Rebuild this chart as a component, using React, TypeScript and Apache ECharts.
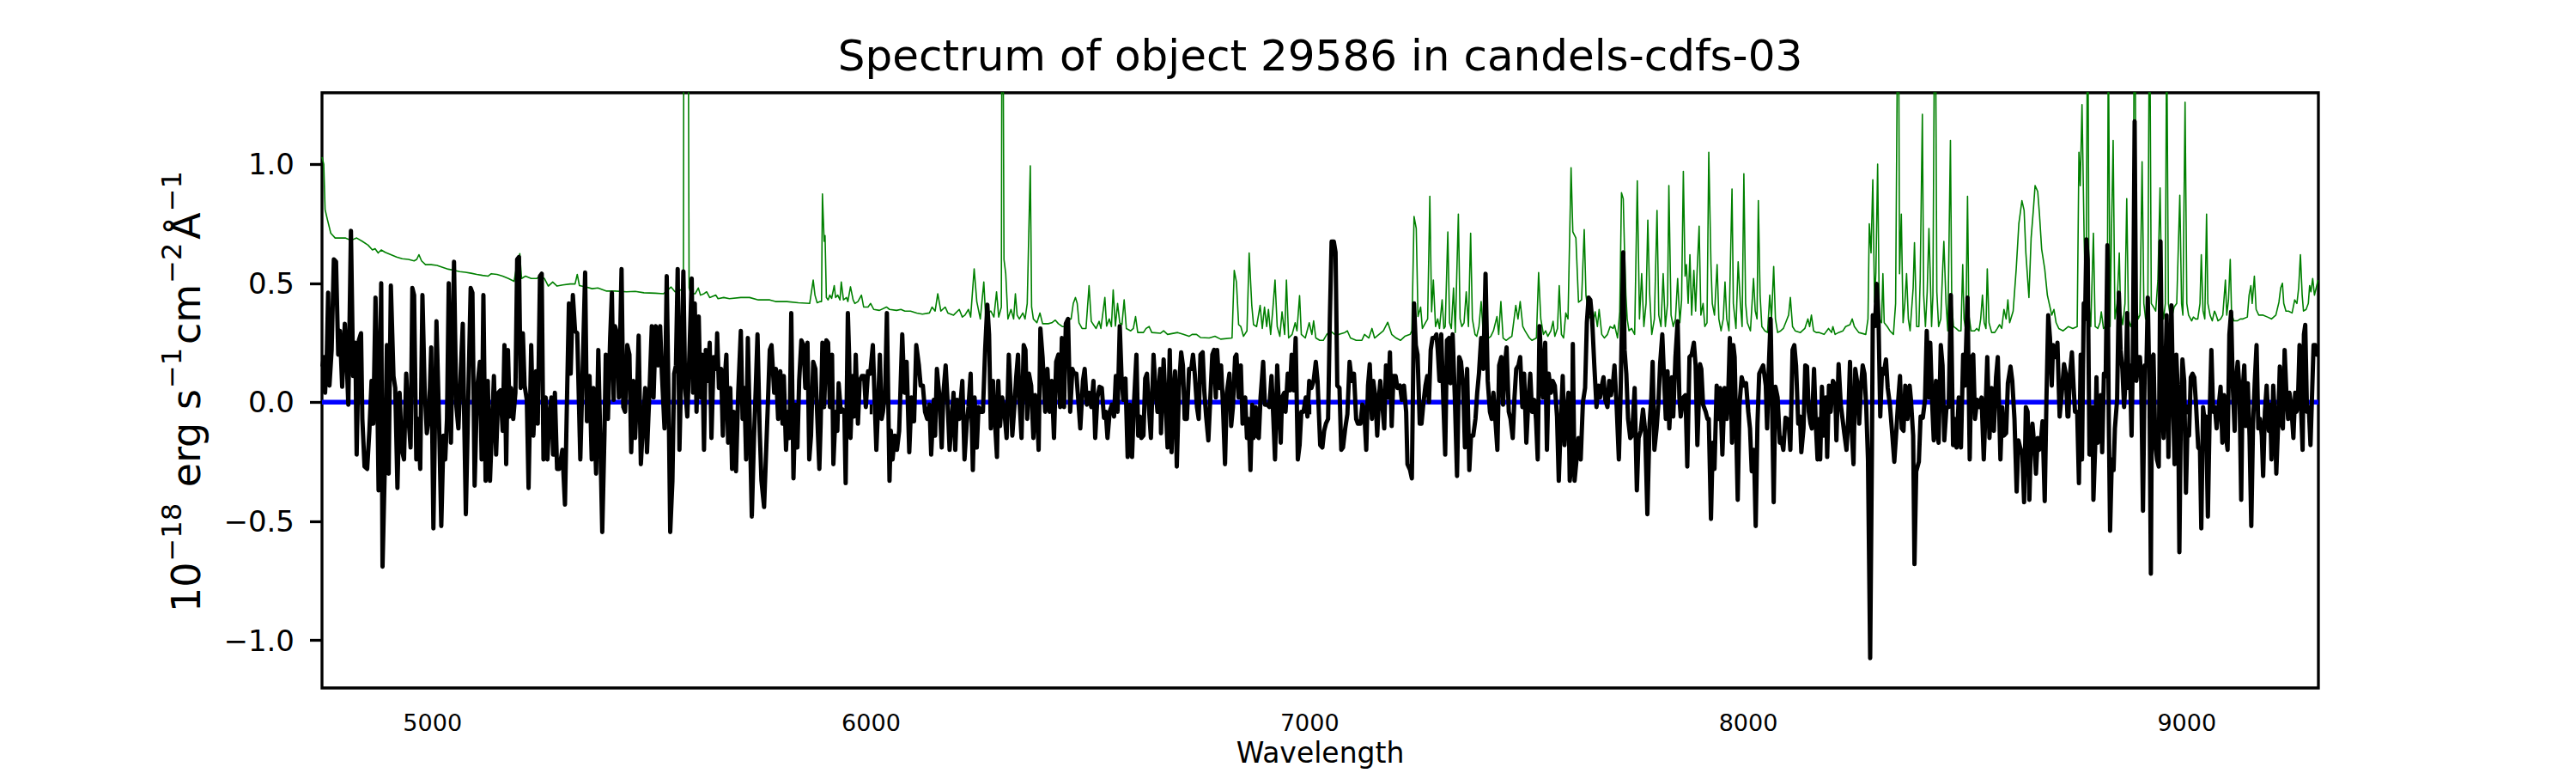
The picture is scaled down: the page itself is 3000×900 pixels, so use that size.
import React, { useEffect, useRef } from "react";
import * as echarts from "echarts";

const TITLE = "Spectrum of object 29586 in candels-cdfs-03";
const X_LABEL = "Wavelength";
const X_MIN = 4748;
const X_MAX = 9300;
const Y_MIN = -1.2;
const Y_MAX = 1.3;
const X_TICKS = [5000, 6000, 7000, 8000, 9000];
const Y_TICKS = [-1.0, -0.5, 0, 0.5, 1.0];
const ZERO_LINE = [[4748, 0], [9300, 0]];

// Observed flux (black), [wavelength, value]
const fluxA = [
  [4749, 0.15], [4752, 0.19], [4755, 0.04], [4759, 0.2], [4762, 0.46], [4765, 0.07], [4770, 0.22], [4775, 0.6],
  [4780, 0.59], [4785, 0.2], [4789, 0.3], [4794, 0.065], [4800, 0.33], [4804, 0.19], [4808, -0.01], [4814, 0.72],
  [4819, 0.11], [4824, 0.25], [4827, -0.22], [4832, 0.26], [4837, 0.29], [4840, -0.07], [4845, -0.27], [4851, -0.28],
  [4856, -0.12], [4861, 0.09], [4865, -0.09], [4870, 0.44], [4873, 0.2], [4877, -0.37], [4883, 0.5], [4886, -0.69],
  [4892, -0.21], [4896, 0.24], [4900, -0.3], [4905, 0.49], [4911, 0.11], [4915, 0.06], [4920, -0.36], [4925, 0.04],
  [4930, -0.2], [4935, -0.24], [4940, 0.12], [4945, -0.06], [4950, -0.19], [4954, 0.48], [4958, 0.45], [4963, -0.24],
  [4967, -0.07], [4972, -0.28], [4977, 0.45], [4982, 0.06], [4987, -0.13], [4992, -0.06], [4997, 0.23], [5002, -0.53],
  [5009, 0.34], [5015, -0.09], [5020, -0.52], [5025, -0.14], [5029, -0.24], [5033, -0.07], [5037, 0.5], [5042, -0.17],
  [5049, 0.59], [5054, -0.01], [5059, -0.11], [5063, 0.07], [5069, 0.33], [5072, -0.04], [5076, -0.47], [5082, 0.06],
  [5087, 0.48], [5091, 0.46], [5096, -0.35], [5100, -0.07], [5103, 0.08], [5108, 0.17], [5112, -0.24], [5116, 0.45],
  [5121, -0.33], [5126, 0.09], [5131, -0.33], [5136, -0.09], [5140, 0.11], [5145, -0.22], [5150, 0.04], [5155, 0.05],
  [5160, -0.12], [5164, 0.24], [5168, -0.26], [5172, 0.22], [5176, -0.06], [5179, 0.06], [5184, -0.07], [5189, 0.04],
  [5193, 0.6], [5197, 0.61], [5201, 0.06], [5206, 0.29], [5210, 0.07], [5215, 0.01], [5219, -0.36], [5225, 0.24],
  [5230, -0.14], [5236, 0.13], [5240, -0.09], [5245, 0.53], [5249, 0.54], [5253, -0.24], [5258, 0.02], [5262, -0.24],
  [5266, -0.07], [5271, 0.02], [5275, -0.22], [5279, 0.04], [5284, -0.28], [5289, -0.28], [5296, -0.2], [5302, -0.43],
  [5305, -0.14],
];
const fluxB = [
  [5311, 0.415], [5315, 0.12], [5320, 0.45], [5325, 0.3], [5330, 0.29], [5337, -0.24], [5341, 0.04], [5348, 0.545],
  [5352, -0.08], [5358, 0.11], [5363, -0.24], [5367, 0.06], [5373, -0.3], [5378, 0.22], [5382, -0.11], [5387, -0.545],
  [5392, -0.14], [5395, 0.2], [5400, -0.07], [5405, 0.27], [5409, 0.46], [5413, 0.01], [5416, 0.32], [5421, 0.285],
  [5425, 0.02], [5431, 0.56], [5435, -0.02], [5439, -0.04], [5444, 0.24], [5449, 0.2], [5453, -0.21], [5458, 0.09],
  [5462, -0.15], [5467, 0.07], [5470, 0.28], [5475, -0.26], [5480, -0.09], [5485, 0.06], [5489, -0.21], [5495, 0.06],
  [5500, 0.32], [5504, 0.02], [5509, 0.32], [5514, 0.155], [5519, 0.32], [5523, 0.12], [5529, -0.11], [5534, 0.53],
  [5539, -0.09], [5542, -0.545], [5547, -0.33], [5551, 0.12], [5555, 0.155], [5559, 0.56], [5563, -0.2], [5568, 0.2],
  [5572, 0.55], [5576, 0.06], [5581, -0.06], [5586, 0.22], [5591, 0.52], [5594, 0.04], [5598, 0.415], [5602, -0.04],
  [5607, 0.36], [5611, 0.02], [5615, 0.2], [5619, -0.2], [5623, 0.22], [5627, 0.09], [5632, 0.25], [5636, -0.15],
  [5641, 0.19], [5647, 0.14], [5649, 0.29], [5653, 0.06], [5658, 0.14], [5662, -0.14], [5666, 0.09], [5670, 0.2],
  [5674, -0.17], [5679, 0.06], [5683, -0.28], [5687, -0.04], [5692, -0.29], [5697, 0.04], [5703, 0.3], [5707, -0.07],
  [5711, 0.06], [5715, -0.24], [5719, 0.27], [5724, -0.14], [5728, -0.48], [5733, -0.15], [5737, 0.06], [5741, 0.285],
  [5746, -0.12], [5750, -0.33], [5756, -0.44], [5760, -0.24], [5764, -0.04], [5769, 0.22], [5773, 0.24], [5779, 0.04],
  [5783, 0.14], [5788, -0.07], [5793, 0.13], [5798, -0.09], [5801, 0.11], [5806, -0.2], [5810, -0.04], [5814, -0.15],
  [5818, 0.375], [5823, -0.32], [5827, -0.01], [5832, -0.19], [5836, 0.09], [5841, 0.26], [5846, 0.24], [5850, 0.06],
  [5855, 0.25], [5859, -0.24], [5863, -0.14], [5868, 0.17], [5873, 0.14],
];
const fluxC = [
  [5882, -0.28], [5885, -0.09], [5889, 0.25], [5893, -0.02], [5898, 0.26], [5902, 0.25], [5906, -0.02], [5911, 0.2],
  [5914, -0.26], [5919, -0.04], [5923, -0.12], [5926, 0.08], [5931, -0.04], [5935, -0.03], [5939, -0.04], [5942, -0.34],
  [5947, 0.375], [5950, 0.19], [5953, -0.15], [5958, 0.11], [5961, -0.06], [5965, 0.2], [5970, -0.09], [5974, 0.09],
  [5979, 0.11], [5984, 0.11], [5988, -0.02], [5993, 0.13], [5998, 0.12], [6004, 0.24], [6009, -0.04], [6012, -0.2],
  [6015, -0.06], [6020, 0.2], [6024, -0.07], [6027, -0.04], [6032, 0.04], [6036, 0.375], [6042, -0.33], [6045, -0.12],
  [6049, -0.24], [6054, -0.14], [6059, -0.2], [6064, -0.12], [6071, 0.285], [6076, 0.04], [6081, 0.17], [6087, -0.21],
  [6092, 0.02], [6098, -0.08], [6103, 0.24], [6109, 0.155], [6113, 0.07], [6118, 0.07], [6123, -0.04], [6128, -0.07],
  [6133, -0.01], [6137, -0.22], [6143, 0.01], [6146, -0.14], [6150, 0.14], [6156, 0.02], [6161, -0.19], [6165, 0.04],
  [6170, 0.155], [6174, 0.02], [6179, -0.2], [6183, -0.1], [6188, 0.04], [6192, -0.2], [6196, 0.01], [6201, -0.07],
  [6208, 0.09], [6213, -0.24], [6218, -0.09], [6222, -0.02], [6227, 0.12], [6232, -0.285], [6236, 0.02], [6241, -0.19],
  [6245, -0.02], [6250, -0.04], [6255, -0.04], [6260, 0.22], [6265, 0.41], [6269, 0.285], [6273, -0.11], [6278, 0.09],
  [6283, -0.1], [6287, -0.23], [6290, 0.09], [6294, -0.1], [6299, 0.02], [6304, -0.04], [6309, -0.15], [6314, 0.2],
  [6318, 0.04], [6322, -0.14], [6327, -0.01], [6331, 0.11], [6335, 0.2], [6338, 0.02], [6343, -0.15], [6348, 0.24],
  [6352, 0.22], [6356, -0.07], [6360, 0.12], [6365, 0.07], [6370, -0.15], [6374, 0.03], [6379, -0.06], [6382, -0.2],
  [6386, 0.31], [6391, 0.19], [6397, -0.04], [6402, 0.14], [6407, -0.04], [6412, 0.09], [6417, -0.15], [6422, 0.17],
  [6427, 0.2], [6431, -0.02], [6435, 0.27], [6440, -0.02], [6444, 0.33], [6449, 0.35],
];
const fluxD = [
  [6454, -0.04], [6459, 0.14], [6463, 0.12], [6468, 0.12], [6472, 0.02], [6477, -0.11], [6483, 0.09], [6487, 0.14],
  [6492, -0.01], [6497, 0.04], [6502, -0.02], [6507, 0.09], [6511, -0.15], [6516, 0.02], [6521, 0.065], [6526, 0.06],
  [6531, -0.065], [6535, -0.04], [6539, -0.15], [6544, -0.04], [6549, -0.01], [6554, -0.06], [6558, 0.11], [6562, -0.04],
  [6567, 0.32], [6571, 0.11], [6575, 0.01], [6580, 0.1], [6585, -0.23], [6590, -0.01], [6595, -0.23], [6599, -0.02],
  [6605, 0.2], [6609, -0.14], [6613, -0.06], [6616, -0.15], [6621, -0.14], [6625, 0.1], [6629, 0.12], [6634, -0.04],
  [6638, -0.15], [6644, 0.2], [6648, 0.07], [6653, -0.04], [6659, 0.14], [6661, -0.13], [6667, 0.18], [6671, 0.02],
  [6676, -0.19], [6681, 0.22], [6685, -0.21], [6689, 0.02], [6693, 0.13], [6697, -0.27], [6702, 0.06], [6707, 0.21],
  [6711, 0.155], [6715, -0.07], [6720, -0.07], [6725, 0.14], [6730, 0.14], [6734, 0.2], [6738, 0.12], [6743, -0.02],
  [6747, -0.07], [6751, 0.2], [6756, 0.21], [6760, 0.04], [6764, -0.06], [6769, -0.16], [6772, -0.04], [6778, 0.2],
  [6782, 0.22], [6786, 0.02], [6789, 0.22], [6794, 0.06], [6798, 0.155], [6802, 0], [6807, -0.26], [6811, 0.04],
  [6817, 0.12], [6821, -0.1], [6825, -0.02], [6830, 0.19], [6833, 0.2], [6838, 0.02], [6843, 0.155], [6847, -0.09],
  [6853, 0.02], [6857, -0.15], [6861, -0.07], [6865, -0.285], [6869, -0.01], [6872, -0.15], [6877, -0.02], [6880, -0.14],
  [6884, -0.15], [6888, 0.02], [6894, 0.17], [6898, -0.01], [6903, -0.01], [6908, -0.02], [6913, 0.11], [6917, -0.06],
  [6921, -0.24], [6926, 0.155], [6930, -0.02], [6934, -0.17], [6937, 0.02], [6942, 0.04], [6945, -0.04], [6950, 0.12],
  [6955, 0.05], [6959, 0.2], [6963, 0.05], [6968, 0.27], [6973, -0.24], [6977, -0.18], [6981, -0.04], [6986, -0.04],
  [6991, 0.02], [6995, -0.06], [6999, 0.09], [7004, 0.06], [7009, 0.09], [7014, 0.17], [7018, 0.09],
];
const fluxE = [
  [7024, -0.18], [7029, -0.19], [7033, -0.12], [7037, -0.09], [7042, -0.07], [7046, 0.35], [7050, 0.675], [7055, 0.675],
  [7059, 0.63], [7063, 0.07], [7068, 0.06], [7072, -0.2], [7076, -0.19], [7081, -0.11], [7086, -0.05], [7091, 0.17],
  [7096, 0.09], [7101, 0.12], [7106, -0.07], [7110, -0.09], [7116, -0.09], [7120, -0.01], [7124, -0.02], [7129, -0.2],
  [7133, 0.07], [7137, 0.16], [7142, -0.07], [7145, 0.09], [7150, 0.02], [7154, -0.14], [7158, 0.02], [7161, 0.09],
  [7166, -0.02], [7170, -0.11], [7174, 0.155], [7179, 0.02], [7183, 0.21], [7187, -0.1], [7191, 0.11], [7196, 0.11],
  [7200, 0.06], [7206, 0.07], [7210, 0.01], [7215, 0.07], [7220, -0.04], [7223, -0.26], [7229, -0.285], [7233, -0.32],
  [7238, 0.415], [7242, 0.24], [7246, 0.2], [7251, -0.09], [7255, -0.09], [7259, -0.01], [7264, 0.07], [7268, 0.11],
  [7272, 0], [7276, 0.22], [7280, 0.27], [7285, 0.27], [7289, 0.285], [7292, 0.22], [7296, 0.09], [7300, 0.285],
  [7305, -0.01], [7309, -0.22], [7313, 0.26], [7318, 0.27], [7321, 0.08], [7326, 0.285], [7331, 0.02], [7336, -0.31],
  [7341, 0.19], [7345, 0.17], [7350, 0.07], [7354, -0.19], [7359, 0.14], [7364, -0.285], [7368, -0.14], [7373, -0.14],
  [7378, -0.07], [7382, 0.04], [7386, 0.12], [7391, 0.27], [7396, 0.14], [7401, 0.54], [7406, 0.09], [7411, -0.04],
  [7415, -0.07], [7419, 0.04], [7424, -0.09], [7428, -0.2], [7432, 0.155], [7437, 0.19], [7441, -0.01], [7445, 0.155],
  [7449, 0.23], [7454, -0.04], [7458, -0.07], [7463, -0.15], [7467, 0.02], [7471, 0.14], [7476, 0.155], [7480, 0.19],
  [7485, -0.02], [7489, 0.12], [7494, -0.17], [7499, 0.02], [7503, 0.12], [7507, -0.04], [7512, 0.01], [7516, -0.07],
  [7520, -0.24], [7524, 0.32], [7528, 0.17], [7532, 0.02], [7537, 0.25], [7541, -0.2], [7545, 0.12], [7550, 0.04],
  [7554, 0.09], [7559, 0.07], [7564, -0.06], [7568, -0.33], [7572, -0.11], [7577, 0.11], [7581, -0.18], [7586, -0.04],
  [7590, 0.04], [7593, -0.33],
];
const fluxF = [
  [7598, -0.24], [7600, 0.245], [7604, -0.33], [7608, -0.25], [7613, -0.15], [7618, -0.24], [7623, 0], [7628, 0.06],
  [7632, 0.335], [7636, 0.44], [7640, 0.43], [7644, 0.35], [7649, 0.155], [7654, -0.02], [7658, 0.07], [7662, 0.02],
  [7666, 0.07], [7670, 0.105], [7674, 0.01], [7679, -0.02], [7683, 0.09], [7687, 0.03], [7692, 0.09], [7695, 0.155],
  [7700, -0.02], [7705, -0.24], [7709, 0.04], [7715, 0.63], [7718, 0.22], [7722, 0.12], [7726, -0.07], [7731, -0.15],
  [7735, -0.14], [7741, 0.06], [7746, -0.37], [7750, -0.15], [7755, -0.12], [7760, -0.03], [7765, -0.12], [7770, -0.47],
  [7775, -0.09], [7779, 0.02], [7782, 0.17], [7786, -0.2], [7791, -0.11], [7795, -0.01], [7799, 0.16], [7804, 0.285],
  [7808, 0.105], [7812, -0.07], [7816, 0.13], [7820, -0.11], [7826, 0.105], [7829, -0.06], [7834, 0.19], [7839, 0.34],
  [7843, 0.02], [7846, -0.06], [7852, 0.02], [7857, 0.03], [7861, -0.27], [7866, 0.19], [7871, 0.2], [7876, 0.25],
  [7880, 0.155], [7884, -0.18], [7890, 0.16], [7893, 0.14], [7897, -0.01], [7903, -0.04], [7907, -0.07], [7910, -0.07],
  [7915, -0.49], [7919, -0.17], [7923, -0.28], [7928, 0.07], [7932, -0.07], [7936, 0.06], [7941, -0.22], [7946, 0.06],
  [7951, -0.07], [7954, 0.01], [7958, 0.27], [7963, -0.17], [7966, 0.24], [7969, 0.19], [7972, -0.07], [7976, -0.41],
  [7980, -0.01], [7985, 0.105], [7990, 0.07], [7995, 0.08], [8000, -0.04], [8004, -0.11], [8008, -0.29], [8013, -0.2],
  [8017, -0.52], [8021, -0.09], [8025, 0.12], [8030, 0.14], [8034, 0.155], [8040, 0.07], [8043, -0.11], [8047, 0.155],
  [8051, 0.35], [8055, -0.09], [8058, -0.42], [8062, 0.065], [8067, 0.02], [8072, -0.17], [8075, -0.15], [8080, -0.2],
  [8085, -0.065], [8089, -0.07], [8093, -0.11], [8096, -0.2], [8101, 0.22], [8105, 0.24], [8109, 0.155], [8114, -0.09],
  [8118, -0.06], [8121, -0.21], [8126, -0.11], [8130, 0.155], [8134, 0.15], [8138, -0.04], [8142, -0.09], [8145, -0.11],
  [8150, 0.14], [8154, -0.09], [8158, -0.24], [8162, -0.07],
];
const fluxG = [
  [8164, -0.24], [8168, 0.065], [8172, -0.14], [8177, 0.02], [8180, -0.23], [8184, 0.07], [8188, -0.04], [8193, 0.09],
  [8198, 0.07], [8201, -0.16], [8206, 0.16], [8211, -0.01], [8215, -0.07], [8219, -0.13], [8224, -0.2], [8228, -0.07],
  [8232, 0.17], [8236, -0.12], [8240, -0.26], [8244, 0.14], [8248, 0.09], [8253, -0.09], [8257, 0.065], [8261, 0.155],
  [8265, 0.12], [8269, -0.02], [8273, -0.24], [8278, -1.075], [8282, -0.2], [8284, 0.366], [8289, 0.32], [8293, 0.497],
  [8297, 0.35], [8301, -0.06], [8305, 0.14], [8309, 0.12], [8314, 0.18], [8318, 0.06], [8323, -0.01], [8329, -0.15],
  [8333, -0.25], [8338, -0.11], [8342, 0.01], [8346, 0.11], [8350, -0.11], [8354, -0.12], [8358, 0.07], [8363, -0.07],
  [8368, 0.07], [8371, 0.01], [8376, -0.14], [8379, -0.68], [8383, -0.29], [8389, -0.25], [8393, -0.06], [8398, -0.065],
  [8403, 0.01], [8407, 0.3], [8412, 0.02], [8415, 0.25], [8419, 0.01], [8423, -0.16], [8428, 0.09], [8431, -0.12],
  [8434, -0.17], [8439, 0.24], [8443, 0.155], [8447, -0.16], [8452, -0.02], [8457, -0.02], [8462, 0.45], [8467, -0.18],
  [8471, -0.07], [8475, -0.19], [8480, 0.02], [8485, -0.19], [8490, 0.2], [8494, 0.07], [8500, 0.44], [8505, -0.24],
  [8509, 0.19], [8513, 0.2], [8517, -0.07], [8522, 0.01], [8527, -0.02], [8532, 0.02], [8537, -0.24], [8542, 0.02],
  [8545, 0.19], [8550, -0.15], [8555, 0.06], [8560, -0.12], [8565, 0.105], [8569, 0.19], [8575, -0.24], [8579, -0.02],
  [8583, -0.14], [8588, -0.13], [8592, 0.08], [8598, 0.15], [8602, 0.09], [8607, -0.07], [8612, -0.375], [8616, -0.16],
  [8620, -0.19], [8625, -0.22], [8629, -0.42], [8633, -0.02], [8637, -0.04], [8641, -0.41], [8645, -0.14], [8648, -0.09],
  [8653, -0.2], [8656, -0.3], [8660, -0.15], [8663, -0.2], [8667, -0.17], [8671, -0.08], [8676, -0.415], [8680, 0.02],
  [8684, 0.366], [8688, 0.27], [8692, 0.07], [8695, 0.24], [8700, 0.19], [8705, 0.25], [8710, -0.06], [8715, 0.04],
  [8720, 0.16], [8724, 0.12], [8728, -0.06],
];
const fluxH = [
  [8730, -0.06], [8733, 0.105], [8738, 0.21], [8742, 0.06], [8745, -0.04], [8750, -0.04], [8754, -0.34], [8758, 0.2],
  [8761, -0.24], [8765, 0.415], [8768, 0.35], [8771, 0.684], [8774, 0.6], [8778, -0.22], [8781, -0.02], [8785, -0.02],
  [8787, -0.41], [8791, -0.19], [8794, 0.105], [8797, -0.17], [8800, 0.02], [8804, 0.03], [8807, -0.21], [8811, 0.12],
  [8815, 0.11], [8819, 0.66], [8822, -0.06], [8825, -0.54], [8829, -0.24], [8833, -0.285], [8836, -0.11], [8841, 0.01],
  [8845, 0.46], [8849, 0.22], [8853, 0.14], [8857, -0.02], [8861, 0.12], [8864, 0.375], [8867, 0.06], [8870, 0.155],
  [8874, -0.14], [8877, 0.2], [8881, 1.18], [8885, 0.09], [8889, 0.19], [8893, 0.19], [8896, 0.09], [8900, -0.456],
  [8904, 0.155], [8908, 0.155], [8911, 0.44], [8915, 0.02], [8918, -0.72], [8921, 0.19], [8924, 0.2], [8928, -0.17],
  [8932, -0.24], [8936, -0.27], [8940, 0.676], [8944, -0.01], [8947, -0.15], [8951, 0.12], [8954, 0.366], [8958, -0.23],
  [8962, 0.17], [8965, 0.407], [8969, -0.02], [8972, -0.26], [8976, 0.2], [8980, 0.02], [8983, -0.63], [8986, -0.11],
  [8990, 0.18], [8994, 0.09], [8998, -0.38], [9001, -0.14], [9005, -0.14], [9009, 0.105], [9013, 0.12], [9017, 0.105],
  [9021, -0.01], [9026, -0.19], [9030, -0.2], [9033, -0.53], [9037, -0.02], [9041, -0.09], [9044, -0.06], [9048, -0.48],
  [9052, -0.06], [9056, 0.22], [9060, -0.04], [9064, -0.02], [9068, -0.11], [9073, -0.01], [9077, 0.065], [9081, -0.17],
  [9085, 0.03], [9089, -0.14], [9093, -0.2], [9097, 0.285], [9101, 0.38], [9105, 0.06], [9109, -0.12], [9112, 0.09],
  [9116, 0.17], [9120, 0.06], [9124, -0.41], [9127, 0.04], [9131, 0.155], [9135, -0.1], [9139, 0.08], [9143, -0.14],
  [9147, -0.52], [9151, -0.09], [9155, 0.09], [9159, 0.24], [9163, -0.11], [9167, -0.07], [9171, -0.14], [9174, -0.31],
  [9178, -0.04], [9182, 0.07], [9187, -0.12], [9190, -0.01], [9193, -0.24], [9197, 0.07], [9201, -0.07], [9204, -0.3],
  [9208, -0.1], [9212, 0.15], [9216, -0.09], [9219, -0.11], [9223, 0.22], [9227, 0.04], [9231, -0.07], [9234, 0.04],
  [9238, -0.01], [9243, -0.15], [9247, 0.04], [9250, -0.04], [9253, -0.02], [9257, 0.24], [9261, -0.05], [9264, -0.2],
  [9267, 0.285], [9270, 0.325], [9274, -0.04], [9278, -0.02], [9282, -0.18], [9286, 0.06], [9289, 0.24], [9293, 0.24],
  [9296, 0.2], [9300, 0.2],
];

// Noise / contamination spectrum (green), [wavelength, value]
const noiseA = [
  [4748, 1.03], [4752, 1.0], [4755, 0.81], [4760, 0.77], [4768, 0.71], [4778, 0.69], [4788, 0.69], [4801, 0.69],
  [4814, 0.68], [4827, 0.69], [4840, 0.676], [4853, 0.66], [4863, 0.64], [4869, 0.645], [4876, 0.627], [4883, 0.64],
  [4892, 0.63], [4905, 0.62], [4918, 0.61], [4931, 0.603], [4945, 0.6], [4958, 0.594], [4964, 0.6], [4969, 0.62],
  [4975, 0.594], [4984, 0.578], [4997, 0.578], [5010, 0.575], [5023, 0.567], [5036, 0.559], [5049, 0.554], [5062, 0.549],
  [5075, 0.546], [5088, 0.542], [5101, 0.537], [5114, 0.533], [5127, 0.53], [5134, 0.54], [5147, 0.537], [5160, 0.53],
  [5173, 0.52], [5186, 0.508], [5193, 0.586], [5199, 0.624], [5203, 0.52], [5212, 0.53], [5225, 0.52], [5238, 0.52],
  [5245, 0.53], [5255, 0.52], [5264, 0.488], [5274, 0.505], [5284, 0.488], [5297, 0.493], [5314, 0.497],
];
const noiseB = [
  [5325, 0.497], [5330, 0.537], [5335, 0.49], [5351, 0.484], [5364, 0.477], [5377, 0.48], [5397, 0.467], [5416, 0.467],
  [5442, 0.464], [5462, 0.466], [5482, 0.46], [5508, 0.458], [5527, 0.456], [5544, 0.484], [5553, 0.464], [5566, 0.472],
  [5572, 0.47], [5574, 3.0], [5578, 1.5], [5581, 3.0], [5585, 0.48], [5589, 0.456], [5599, 0.456], [5606, 0.48],
  [5611, 0.45], [5619, 0.456], [5625, 0.464], [5632, 0.44], [5646, 0.45], [5651, 0.435], [5664, 0.44], [5677, 0.435],
  [5703, 0.44], [5723, 0.44], [5743, 0.43], [5769, 0.43], [5782, 0.423], [5808, 0.423], [5834, 0.418], [5860, 0.415],
  [5868, 0.513], [5872, 0.45], [5877, 0.418], [5884, 0.423],
];
const noiseC = [
  [5887, 0.423], [5889, 0.875], [5893, 0.676], [5895, 0.7], [5898, 0.44], [5902, 0.43], [5906, 0.45], [5910, 0.436],
  [5916, 0.49], [5919, 0.44], [5924, 0.45], [5929, 0.43], [5932, 0.505], [5937, 0.43], [5944, 0.44], [5947, 0.423],
  [5953, 0.485], [5959, 0.43], [5963, 0.415], [5970, 0.423], [5978, 0.45], [5983, 0.4], [5993, 0.4], [5999, 0.415],
  [6006, 0.39], [6019, 0.386], [6035, 0.4], [6042, 0.39], [6058, 0.386], [6068, 0.39], [6077, 0.383], [6090, 0.383],
  [6104, 0.375], [6117, 0.37], [6133, 0.375], [6139, 0.4], [6146, 0.383], [6152, 0.456], [6159, 0.383], [6169, 0.4],
  [6175, 0.375], [6188, 0.366], [6201, 0.39], [6208, 0.358], [6214, 0.366], [6222, 0.39], [6227, 0.358], [6235, 0.56],
  [6241, 0.423], [6249, 0.35], [6257, 0.505], [6261, 0.366], [6273, 0.383], [6280, 0.358], [6286, 0.464], [6291, 0.358],
  [6297, 0.4], [6299, 2.5], [6303, 0.6], [6307, 0.54], [6312, 0.35], [6319, 0.39], [6325, 0.35], [6329, 0.456],
  [6333, 0.366], [6338, 0.35], [6346, 0.375], [6351, 0.35], [6356, 0.415], [6363, 0.993], [6366, 0.4], [6370, 0.35],
  [6378, 0.334], [6385, 0.375], [6391, 0.33], [6404, 0.33], [6412, 0.334], [6420, 0.345], [6427, 0.33], [6436, 0.318],
  [6446, 0.318], [6453, 0.35],
];
const noiseD = [
  [6456, 0.35], [6461, 0.415], [6466, 0.44], [6470, 0.415], [6474, 0.334], [6481, 0.31], [6490, 0.31], [6497, 0.49],
  [6502, 0.34], [6507, 0.326], [6513, 0.31], [6520, 0.34], [6524, 0.31], [6533, 0.44], [6537, 0.32], [6543, 0.35],
  [6548, 0.318], [6552, 0.472], [6557, 0.32], [6562, 0.415], [6567, 0.334], [6572, 0.326], [6577, 0.43], [6582, 0.31],
  [6592, 0.3], [6598, 0.31], [6603, 0.36], [6608, 0.293], [6621, 0.293], [6627, 0.31], [6634, 0.318], [6640, 0.293],
  [6660, 0.29], [6667, 0.3], [6676, 0.285], [6699, 0.293], [6712, 0.285], [6725, 0.277], [6732, 0.285], [6742, 0.285],
  [6751, 0.272], [6771, 0.27], [6784, 0.277], [6797, 0.265], [6823, 0.27], [6828, 0.554], [6833, 0.505], [6838, 0.326],
  [6843, 0.318], [6849, 0.277], [6857, 0.3], [6862, 0.627], [6868, 0.407], [6872, 0.326], [6879, 0.318], [6887, 0.407],
  [6892, 0.31], [6897, 0.4], [6902, 0.318], [6906, 0.39], [6911, 0.285], [6916, 0.39], [6921, 0.513], [6926, 0.318],
  [6932, 0.277], [6937, 0.38], [6943, 0.285], [6947, 0.513], [6952, 0.27], [6960, 0.285], [6967, 0.334], [6971, 0.3],
  [6977, 0.448], [6981, 0.285], [6990, 0.27], [6999, 0.334], [7005, 0.285], [7009, 0.342], [7014, 0.27], [7023, 0.26],
];
const noiseE = [
  [7031, 0.26], [7039, 0.285], [7047, 0.3], [7057, 0.285], [7067, 0.285], [7080, 0.293], [7086, 0.3], [7093, 0.27],
  [7106, 0.26], [7119, 0.26], [7125, 0.285], [7135, 0.27], [7142, 0.31], [7148, 0.27], [7158, 0.285], [7168, 0.3],
  [7178, 0.336], [7187, 0.285], [7197, 0.27], [7207, 0.26], [7217, 0.277], [7229, 0.285], [7233, 0.3], [7238, 0.78],
  [7243, 0.73], [7247, 0.36], [7253, 0.4], [7257, 0.31], [7264, 0.334], [7269, 0.35], [7274, 0.865], [7278, 0.38],
  [7282, 0.513], [7287, 0.318], [7292, 0.35], [7296, 0.31], [7302, 0.43], [7306, 0.31], [7309, 0.318], [7315, 0.715],
  [7319, 0.334], [7323, 0.31], [7328, 0.48], [7332, 0.293], [7339, 0.79], [7343, 0.35], [7347, 0.318], [7352, 0.334],
  [7357, 0.464], [7362, 0.318], [7367, 0.71], [7371, 0.35], [7377, 0.285], [7381, 0.277], [7386, 0.318], [7391, 0.423],
  [7396, 0.285], [7403, 0.285], [7408, 0.27], [7413, 0.277], [7419, 0.3], [7427, 0.36], [7431, 0.285], [7436, 0.423],
  [7441, 0.27], [7448, 0.26], [7455, 0.27], [7461, 0.277], [7470, 0.407], [7475, 0.35], [7480, 0.423], [7486, 0.318],
  [7491, 0.3], [7501, 0.27], [7507, 0.26], [7517, 0.27], [7522, 0.545], [7527, 0.35], [7533, 0.285], [7538, 0.3],
  [7543, 0.277], [7550, 0.3], [7555, 0.34], [7559, 0.277], [7565, 0.31], [7569, 0.49], [7574, 0.285], [7579, 0.27],
  [7584, 0.375], [7589, 0.35],
];
const noiseF = [
  [7596, 0.985], [7600, 0.716], [7607, 0.69], [7613, 0.42], [7620, 0.43], [7626, 0.725], [7630, 0.45], [7636, 0.366],
  [7646, 0.334], [7651, 0.38], [7656, 0.318], [7660, 0.39], [7666, 0.285], [7672, 0.27], [7679, 0.285], [7685, 0.318],
  [7692, 0.31], [7695, 0.325], [7702, 0.27], [7707, 0.38], [7711, 0.88], [7715, 0.855], [7718, 0.627], [7721, 0.45],
  [7724, 0.35], [7728, 0.3], [7734, 0.31], [7741, 0.285], [7747, 0.93], [7752, 0.35], [7757, 0.54], [7762, 0.318],
  [7767, 0.415], [7771, 0.765], [7775, 0.464], [7780, 0.285], [7786, 0.35], [7792, 0.806], [7796, 0.366], [7801, 0.318],
  [7806, 0.54], [7811, 0.318], [7816, 0.415], [7819, 0.91], [7824, 0.366], [7829, 0.318], [7834, 0.35], [7839, 0.52],
  [7844, 0.334], [7848, 0.43], [7852, 0.97], [7856, 0.53], [7859, 0.578], [7863, 0.415], [7867, 0.62], [7871, 0.366],
  [7876, 0.554], [7880, 0.383], [7883, 0.53], [7888, 0.74], [7892, 0.366], [7897, 0.415], [7901, 0.318], [7906, 0.334],
  [7910, 1.05], [7915, 0.578], [7918, 0.415], [7923, 0.366], [7929, 0.578], [7933, 0.35], [7938, 0.3], [7943, 0.35],
  [7947, 0.505], [7951, 0.35], [7956, 0.3], [7963, 0.896], [7966, 0.415], [7972, 0.31], [7977, 0.59], [7982, 0.415],
  [7986, 0.318], [7990, 0.96], [7994, 0.415], [7998, 0.334], [8005, 0.3], [8012, 0.52], [8016, 0.383], [8020, 0.35],
  [8023, 0.847], [8027, 0.45], [8031, 0.318], [8038, 0.3], [8044, 0.293], [8049, 0.45], [8053, 0.35], [8058, 0.57],
  [8062, 0.35], [8067, 0.293], [8074, 0.3], [8080, 0.31], [8087, 0.342], [8092, 0.366], [8096, 0.44], [8101, 0.318],
  [8107, 0.3], [8119, 0.293], [8129, 0.31], [8136, 0.35], [8140, 0.318], [8144, 0.366], [8149, 0.3], [8155, 0.293],
  [8162, 0.293],
];
const noiseG = [
  [8173, 0.285], [8183, 0.31], [8190, 0.293], [8193, 0.318], [8198, 0.285], [8206, 0.293], [8216, 0.3], [8222, 0.318],
  [8232, 0.326], [8237, 0.35], [8242, 0.318], [8252, 0.293], [8268, 0.285], [8273, 0.35], [8276, 0.75], [8280, 0.627],
  [8284, 0.935], [8288, 0.42], [8291, 0.545], [8295, 1.0], [8299, 0.35], [8304, 0.334], [8307, 0.54], [8310, 0.334],
  [8317, 0.318], [8323, 0.3], [8331, 0.285], [8336, 0.415], [8342, 2.0], [8345, 0.54], [8349, 0.79], [8353, 0.334],
  [8357, 0.415], [8361, 0.54], [8365, 0.35], [8369, 0.3], [8376, 0.48], [8379, 0.67], [8384, 0.318], [8389, 0.318],
  [8392, 0.513], [8397, 1.21], [8400, 0.45], [8404, 0.318], [8408, 0.464], [8412, 0.73], [8415, 0.53], [8418, 0.318],
  [8421, 0.45], [8426, 2.0], [8430, 0.464], [8434, 0.318], [8439, 0.35], [8443, 0.545], [8446, 0.676], [8451, 0.415],
  [8455, 0.3], [8461, 1.1], [8464, 0.415], [8468, 0.318], [8474, 0.31], [8480, 0.3], [8485, 0.3], [8489, 0.578],
  [8492, 0.35], [8496, 0.3], [8500, 0.865], [8503, 0.366], [8508, 0.3], [8516, 0.3], [8521, 0.31], [8526, 0.3],
  [8530, 0.35], [8534, 0.45], [8538, 0.334], [8542, 0.31], [8545, 0.56], [8549, 0.334], [8555, 0.293], [8562, 0.293],
  [8568, 0.31], [8573, 0.326], [8578, 0.31], [8583, 0.39], [8588, 0.35], [8592, 0.43], [8596, 0.334], [8604, 0.383],
  [8611, 0.56], [8617, 0.75], [8624, 0.847], [8629, 0.806], [8633, 0.627], [8640, 0.44], [8645, 0.69], [8650, 0.806],
  [8654, 0.91], [8660, 0.885], [8664, 0.79], [8669, 0.643], [8676, 0.56], [8682, 0.45], [8688, 0.4], [8692, 0.366],
  [8697, 0.39], [8702, 0.334], [8708, 0.31], [8718, 0.3],
];
const noiseH = [
  [8730, 0.318], [8740, 0.31], [8750, 0.318], [8754, 1.05], [8757, 0.91], [8761, 1.25], [8766, 0.676], [8770, 0.35],
  [8774, 1.8], [8777, 0.415], [8781, 0.318], [8787, 0.71], [8791, 0.318], [8797, 0.31], [8802, 0.334], [8805, 0.38],
  [8810, 0.31], [8815, 0.318], [8819, 0.513], [8821, 1.6], [8825, 0.318], [8828, 0.69], [8832, 1.1], [8836, 0.35],
  [8841, 0.415], [8846, 0.627], [8849, 0.38], [8854, 0.326], [8859, 0.415], [8863, 0.855], [8867, 0.35], [8872, 0.318],
  [8877, 0.35], [8881, 2.0], [8885, 0.415], [8889, 0.35], [8893, 0.366], [8898, 1.01], [8902, 0.415], [8906, 0.35],
  [8911, 0.383], [8915, 1.8], [8919, 0.415], [8924, 0.4], [8929, 0.383], [8934, 0.513], [8939, 0.9], [8943, 0.415],
  [8947, 0.35], [8951, 0.415], [8954, 1.6], [8958, 0.415], [8963, 0.35], [8967, 0.366], [8971, 0.4], [8977, 0.415],
  [8984, 0.87], [8988, 0.415], [8991, 0.366], [8996, 1.26], [9000, 0.415], [9004, 0.366], [9011, 0.342], [9015, 0.358],
  [9020, 0.35], [9025, 0.35], [9030, 0.415], [9033, 0.62], [9037, 0.383], [9041, 0.35], [9045, 0.79], [9048, 0.415],
  [9053, 0.366], [9058, 0.342], [9063, 0.383], [9067, 0.366], [9071, 0.342], [9077, 0.35], [9082, 0.366], [9088, 0.513],
  [9091, 0.366], [9095, 0.43], [9099, 0.6], [9102, 0.375], [9107, 0.342], [9115, 0.342], [9122, 0.35], [9128, 0.35],
  [9138, 0.358], [9142, 0.45], [9146, 0.49], [9149, 0.415], [9154, 0.53], [9158, 0.39], [9164, 0.366], [9174, 0.366],
  [9184, 0.358], [9193, 0.35], [9203, 0.366], [9210, 0.42], [9214, 0.48], [9218, 0.5], [9221, 0.415], [9226, 0.383],
  [9232, 0.383], [9240, 0.375], [9246, 0.43], [9251, 0.415], [9255, 0.48], [9259, 0.62], [9263, 0.45], [9266, 0.383],
  [9272, 0.39], [9277, 0.415], [9280, 0.49], [9283, 0.464], [9287, 0.52], [9291, 0.45], [9295, 0.48], [9299, 0.513],
];

const FONT = "DejaVu Sans";

export default function App() {
  const ref = useRef<HTMLDivElement>(null);

  useEffect(() => {
    document.body.style.margin = "0";
    if (!ref.current) return;
    const chart = echarts.init(ref.current, undefined, { renderer: "svg" });

    const flux = [...fluxA, ...fluxB, ...fluxC, ...fluxD, ...fluxE, ...fluxF, ...fluxG, ...fluxH];
    const noise = [...noiseA, ...noiseB, ...noiseC, ...noiseD, ...noiseE, ...noiseF, ...noiseG, ...noiseH];

    const fmtY = (v: number) => (v < 0 ? "\u2212" : "") + Math.abs(v).toFixed(1);

    chart.setOption({
      animation: false,
      backgroundColor: "#ffffff",
      grid: {
        left: 375,
        top: 108,
        width: 2325,
        height: 693,
        show: true,
        borderColor: "#000000",
        borderWidth: 3.3,
        backgroundColor: "transparent",
        containLabel: false,
      },
      xAxis: {
        type: "value",
        min: X_MIN,
        max: X_MAX,
        axisLine: { show: false },
        splitLine: { show: false },
        axisTick: {
          show: true,
          inside: false,
          length: 14,
          lineStyle: { color: "#000", width: 3.3 },
          customValues: X_TICKS,
        },
        axisLabel: {
          show: true,
          margin: 27,
          fontFamily: FONT,
          fontSize: 27,
          color: "#000",
          customValues: X_TICKS,
          formatter: (v: number) => String(v),
        },
      },
      yAxis: {
        type: "value",
        min: Y_MIN,
        max: Y_MAX,
        axisLine: { show: false },
        splitLine: { show: false },
        axisTick: {
          show: true,
          inside: false,
          length: 14,
          lineStyle: { color: "#000", width: 3.3 },
          customValues: Y_TICKS,
        },
        axisLabel: {
          show: true,
          margin: 32,
          fontFamily: FONT,
          fontSize: 34,
          color: "#000",
          customValues: Y_TICKS,
          formatter: fmtY,
        },
      },
      graphic: [
        {
          type: "text",
          x: 1537.5,
          y: 65,
          style: {
            text: TITLE,
            fontFamily: FONT,
            fontSize: 50,
            fill: "#000",
            align: "center",
            verticalAlign: "middle",
          },
        },
        {
          type: "text",
          x: 1537.5,
          y: 876,
          style: {
            text: X_LABEL,
            fontFamily: FONT,
            fontSize: 33,
            fill: "#000",
            align: "center",
            verticalAlign: "middle",
          },
        },
        {
          type: "text",
          x: 212,
          y: 454,
          rotation: Math.PI / 2,
          style: {
            text: "{n|10}{s|\u221218}{n| erg s}{s|\u22121}{n|cm}{s|\u22122}{n|\u00c5}{s|\u22121}",
            align: "center",
            verticalAlign: "middle",
            fill: "#000",
            fontFamily: FONT,
            fontSize: 46,
            rich: {
              n: { fontFamily: FONT, fontSize: 46, lineHeight: 56, fill: "#000", verticalAlign: "bottom" },
              s: { fontFamily: FONT, fontSize: 32, lineHeight: 32, fill: "#000", verticalAlign: "top", padding: [0, 4, 0, 1] },
            },
          },
        },
      ],
      series: [
        {
          type: "line",
          data: noise,
          showSymbol: false,
          symbol: "none",
          clip: true,
          lineStyle: { color: "#008000", width: 1.6, join: "round" },
          z: 2,
        },
        {
          type: "line",
          data: ZERO_LINE,
          showSymbol: false,
          symbol: "none",
          clip: true,
          lineStyle: { color: "#0000ff", width: 5.5 },
          z: 3,
        },
        {
          type: "line",
          data: flux,
          showSymbol: false,
          symbol: "none",
          clip: true,
          lineStyle: { color: "#000000", width: 5, join: "round" },
          z: 4,
        },
      ],
    });

    return () => {
      chart.dispose();
    };
  }, []);

  return <div ref={ref} style={{ width: 3000, height: 900 }} />;
}
